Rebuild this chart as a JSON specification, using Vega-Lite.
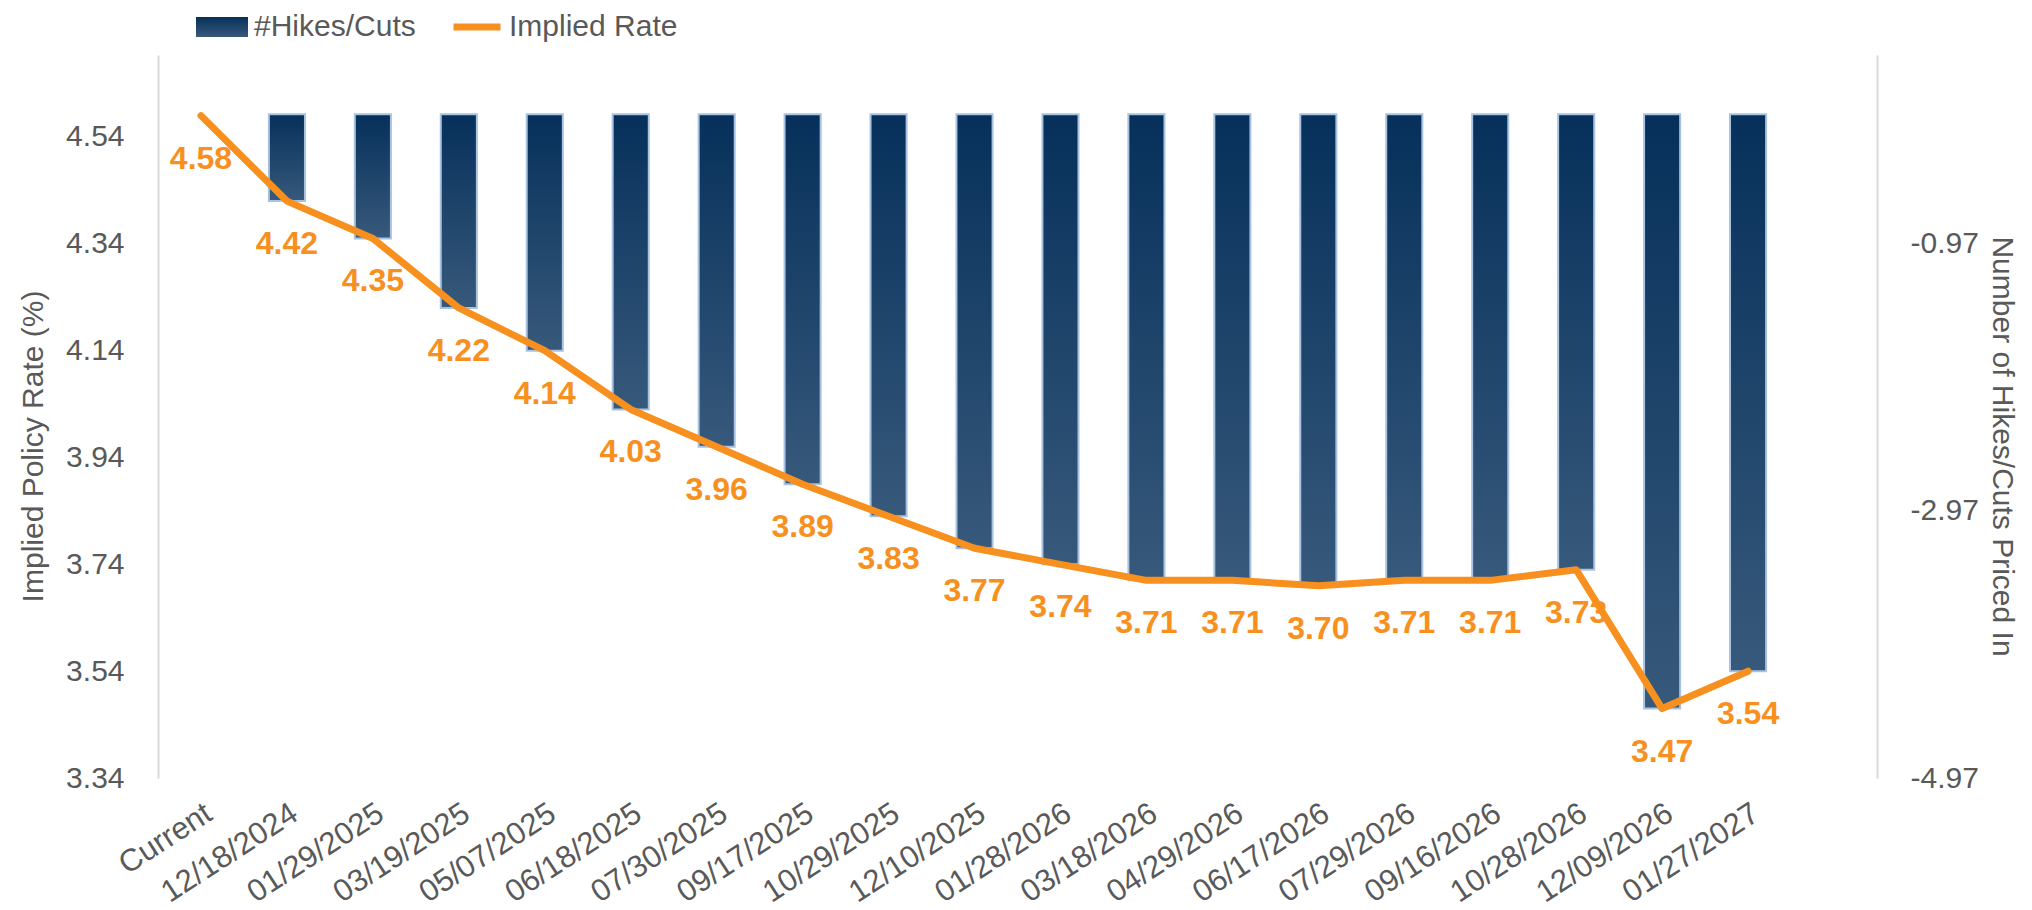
{
  "$schema": "https://vega.github.io/schema/vega-lite/v6.json",
  "width": 1719,
  "height": 723,
  "autosize": {"type": "none"},
  "padding": {"left": 158, "top": 55, "right": 155, "bottom": 132},
  "background": "white",
  "config": {
    "view": {"stroke": null},
    "font": "Liberation Sans",
    "axis": {
      "labelFont": "Liberation Sans",
      "titleFont": "Liberation Sans",
      "labelColor": "#595959",
      "titleColor": "#595959",
      "labelFontSize": 30,
      "titleFontSize": 30,
      "titleFontWeight": "normal",
      "labelLimit": 400,
      "ticks": false,
      "grid": false,
      "domainColor": "#d9d9d9",
      "domainWidth": 2
    },
    "legend": {
      "labelFont": "Liberation Sans",
      "labelFontSize": 30,
      "labelColor": "#595959",
      "labelLimit": 400,
      "padding": 0
    }
  },
  "data": {
    "values": [
      {"date": "Current", "rate": 4.58, "hikes": null},
      {"date": "12/18/2024", "rate": 4.42, "hikes": -0.65},
      {"date": "01/29/2025", "rate": 4.35, "hikes": -0.93},
      {"date": "03/19/2025", "rate": 4.22, "hikes": -1.45},
      {"date": "05/07/2025", "rate": 4.14, "hikes": -1.77},
      {"date": "06/18/2025", "rate": 4.03, "hikes": -2.21},
      {"date": "07/30/2025", "rate": 3.96, "hikes": -2.49},
      {"date": "09/17/2025", "rate": 3.89, "hikes": -2.77},
      {"date": "10/29/2025", "rate": 3.83, "hikes": -3.01},
      {"date": "12/10/2025", "rate": 3.77, "hikes": -3.25},
      {"date": "01/28/2026", "rate": 3.74, "hikes": -3.37},
      {"date": "03/18/2026", "rate": 3.71, "hikes": -3.49},
      {"date": "04/29/2026", "rate": 3.71, "hikes": -3.49},
      {"date": "06/17/2026", "rate": 3.70, "hikes": -3.53},
      {"date": "07/29/2026", "rate": 3.71, "hikes": -3.49},
      {"date": "09/16/2026", "rate": 3.71, "hikes": -3.49},
      {"date": "10/28/2026", "rate": 3.73, "hikes": -3.41},
      {"date": "12/09/2026", "rate": 3.47, "hikes": -4.45},
      {"date": "01/27/2027", "rate": 3.54, "hikes": -4.17}
    ]
  },
  "encoding": {
    "x": {
      "field": "date",
      "type": "nominal",
      "sort": null,
      "scale": {
        "domain": ["Current", "12/18/2024", "01/29/2025", "03/19/2025", "05/07/2025", "06/18/2025", "07/30/2025", "09/17/2025", "10/29/2025", "12/10/2025", "01/28/2026", "03/18/2026", "04/29/2026", "06/17/2026", "07/29/2026", "09/16/2026", "10/28/2026", "12/09/2026", "01/27/2027", " "],
        "paddingInner": 0.58,
        "paddingOuter": 0.29
      },
      "axis": {"title": null, "domain": false, "labelAngle": -33, "labelPadding": 20, "labelFontSize": 31}
    }
  },
  "layer": [
    {
      "mark": {
        "type": "bar",
        "color": {"gradient": "linear", "x1": 0, "y1": 0, "x2": 0, "y2": 1, "stops": [{"offset": 0, "color": "#06305a"}, {"offset": 1, "color": "#37597b"}]},
        "stroke": "#a9c2e2",
        "strokeWidth": 2
      },
      "encoding": {
        "y": {
          "field": "hikes",
          "type": "quantitative",
          "scale": {"domain": [-4.97, 0.444], "nice": false, "zero": false},
          "axis": {
            "orient": "right",
            "values": [-4.97, -2.97, -0.97],
            "labelExpr": "replace(format(datum.value, '.2f'), '\u2212', '-')",
            "labelPadding": 33,
            "title": "Number of Hikes/Cuts Priced In",
            "titleAngle": 90,
            "titleAlign": "center",
            "titleBaseline": "alphabetic",
            "titleX": 115,
            "titleY": 391
          }
        },
        "y2": {"datum": 0},
        "opacity": {
          "datum": "#Hikes/Cuts",
          "scale": {"range": [1]},
          "legend": {
            "title": null,
            "orient": "none",
            "legendX": 37,
            "legendY": -55,
            "symbolType": "M-1,-0.385H1V0.385H-1Z",
            "symbolSize": 2704,
            "symbolFillColor": "#1f4468",
            "symbolStrokeColor": "#a9c2e2",
            "symbolStrokeWidth": 2,
            "labelOffset": 5
          }
        }
      }
    },
    {
      "encoding": {
        "y": {
          "field": "rate",
          "type": "quantitative",
          "scale": {"domain": [3.34, 4.6935], "nice": false, "zero": false},
          "axis": {
            "orient": "left",
            "values": [3.34, 3.54, 3.74, 3.94, 4.14, 4.34, 4.54],
            "format": ".2f",
            "labelPadding": 34,
            "title": "Implied Policy Rate (%)",
            "titleAngle": -90,
            "titleAlign": "center",
            "titleBaseline": "alphabetic",
            "titleX": -116,
            "titleY": 391
          }
        }
      },
      "layer": [
        {
          "mark": {"type": "line", "strokeWidth": 7, "strokeCap": "round", "strokeJoin": "round"},
          "encoding": {
            "stroke": {
              "datum": "Implied Rate",
              "scale": {"range": ["#f7901e"]},
              "legend": {
                "title": null,
                "orient": "none",
                "legendX": 292,
                "legendY": -55,
                "symbolType": "stroke",
                "symbolSize": 2209,
                "symbolStrokeWidth": 7,
                "labelOffset": 5
              }
            }
          }
        },
        {
          "mark": {"type": "text", "font": "Liberation Sans", "fontWeight": "bold", "fontSize": 32, "color": "#f7901e", "dy": 43, "baseline": "middle", "align": "center"},
          "encoding": {"text": {"field": "rate", "type": "quantitative", "format": ".2f"}}
        }
      ]
    }
  ],
  "resolve": {"scale": {"y": "independent"}}
}
